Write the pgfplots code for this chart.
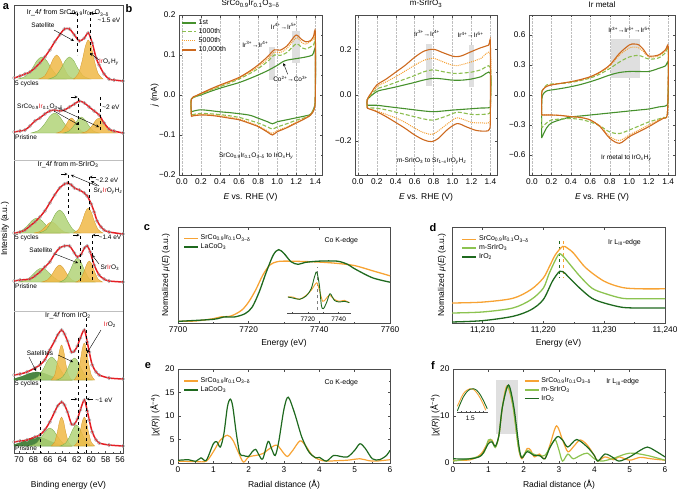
\documentclass[border=0pt]{standalone}
\usepackage{pgfplots}
\usepackage{pgfplotstable}
\pgfplotsset{compat=1.18}
\usepackage{fontspec}
\setmainfont{Liberation Sans}
\definecolor{cOr}{RGB}{247,163,52}
\definecolor{cLg}{RGB}{140,195,80}
\definecolor{cDg}{RGB}{30,105,30}
\definecolor{cv1}{RGB}{70,145,45}
\definecolor{cv2}{RGB}{140,190,80}
\definecolor{cv3}{RGB}{245,160,50}
\definecolor{cv4}{RGB}{205,105,30}
\definecolor{xred}{RGB}{228,30,36}
\definecolor{fG}{RGB}{178,212,120}
\definecolor{gEdge}{RGB}{120,170,70}
\definecolor{fO}{RGB}{240,185,70}
\definecolor{oEdge}{RGB}{210,150,40}
\definecolor{fD}{RGB}{55,120,45}
\newcommand{\fsz}[1]{\fontsize{#1}{#1}\selectfont}
\pgfplotsset{
  base/.style={scale only axis, anchor=south west,
    axis line style={black!70, line width=0.5pt},
    tick style={black!70, line width=0.4pt},
    tick align=inside, major tick length=2.5pt, minor tick length=1.4pt,
    tick label style={font=\fsz{8.3}}, label style={font=\fsz{8.5}},
    /pgf/number format/assume math mode=true, /pgf/number format/1000 sep={},
    scaled ticks=false,
    legend cell align=left,
    legend style={draw=none, fill=none, font=\fsz{7}, row sep=-1.5pt, inner sep=1pt},
    legend image code/.code={\draw[##1] (0pt,0pt) -- (14pt,0pt);},
    title style={at={(0.5,1)}, anchor=south, yshift=0.5pt, inner sep=1pt, font=\fsz{8}}},
  cvax/.style={xmin=-0.03, xmax=1.47, xtick={0,0.2,0.4,0.6,0.8,1,1.2,1.4},
    xticklabels={0.0,0.2,0.4,0.6,0.8,1.0,1.2,1.4}, minor x tick num=1, minor y tick num=1,
    xmajorgrids, major grid style={densely dotted, gray!50, line width=0.4pt},
    xlabel={\textit{E} vs. RHE (V)},
    xlabel style={at={(axis description cs:0.5,-0.1375)}, anchor=center}},
  cA/.style={color=cv1, line width=1.1pt, smooth, tension=0.5},
  cB/.style={color=cv2, line width=1.1pt, dash pattern=on 4pt off 2pt, smooth, tension=0.5},
  cC/.style={color=cv3, line width=1.0pt, densely dotted, smooth, tension=0.5},
  cD/.style={color=cv4, line width=1.1pt, smooth, tension=0.5},
  kG/.style={smooth, draw=gEdge, fill=fG, fill opacity=0.85, line width=0.3pt},
  kO/.style={smooth, draw=oEdge, fill=fO, fill opacity=0.85, line width=0.3pt},
  kD/.style={smooth, draw=fD, fill=fD, fill opacity=0.9, line width=0.3pt},
  dots/.style={only marks, mark=o, mark size=1.8pt, draw=gray!75, line width=0.35pt},
  fitl/.style={color=xred, line width=1.5pt, smooth},
}
\pgfplotstableread{
x y
70.685 375
69.863 377
69.178 379
68.493 381
67.808 385
67.123 390
66.438 396
65.753 403
65.068 411
64.384 418
63.699 424
63.014 424
62.329 418
61.644 412
60.959 415
60.41 420
59.86 410
59.32 395
58.904 388
58.219 379
57.534 374
56.849 373
55.616 372
}\rA
\pgfplotstableread{
x y
70.685 321
69.863 322
69.178 323
68.493 327
67.808 332
67.123 335
66.438 339
65.753 342
65.068 343
64.384 342
63.699 343
63.014 346
62.329 349
61.644 352
60.959 350
60.274 346
59.589 342
58.904 338
58.219 330
57.534 324
56.849 322
55.616 320
}\rB
\pgfplotstableread{
x y
70.685 220
69.863 221
69.178 223
68.493 227
67.808 231
67.123 236
66.438 242
65.753 250
65.068 258
64.384 265
63.699 269
63.29 270
62.74 268
62.329 265
61.644 263
60.959 260
60.55 257
60.00 249
59.589 241
59.18 232
58.63 226
58.219 223
57.534 221
55.616 219
}\rC
\pgfplotstableread{
x y
70.685 172
69.863 173
68.493 174
67.808 177
67.123 181
66.438 186
65.753 191
65.068 199
64.384 205
63.699 207
63.014 207
62.329 200
61.92 196
61.37 199
60.959 205
60.55 207
60.14 201
59.589 188
58.904 178
58.219 174
57.534 172
55.616 171
}\rD
\pgfplotstableread{
x y
70.685 78
69.863 79
68.90 81
67.808 85
67.123 88
66.438 93
65.753 103
65.068 112
64.66 118
64.11 123
63.699 119
63.29 112
62.74 101
62.329 102
61.92 107
61.51 115
60.959 123
60.55 111
60.274 101
59.86 88
59.32 81
58.904 78
57.534 75
55.616 74
}\rE
\pgfplotstableread{
x y
70.685 11
69.863 12
68.90 13
67.808 16
67.123 18
66.438 23
65.753 31
65.068 41
64.66 47
64.11 51
63.699 48
63.29 41
62.74 29
62.329 29
61.92 34
61.51 43
60.959 53
60.55 42
60.274 33
59.86 21
59.32 13
58.904 10
57.534 8
55.616 7
}\rF
\begin{document}
\begin{tikzpicture}[x=1pt,y=1pt]
\path[use as bounding box] (0,0) rectangle (679,491);

% ---------------- panel a ----------------
\begin{axis}[base, at={(14pt,38pt)}, width=109pt, height=448pt,
  xmin=55.6, xmax=70.7, x dir=reverse, ymin=0, ymax=448, ytick=\empty,
  xtick={56,58,60,62,64,66,68,70}, minor x tick num=1, xtick pos=left,
  xlabel={Binding energy (eV)}, ylabel={Intensity (a.u.)},
  xlabel style={at={(axis description cs:0.5,-0.071)}, anchor=center},
  ylabel style={at={(axis description cs:-0.083,0.5)}, anchor=center}]
% S1 5 cycles
\addplot[kG] coordinates {(63.56,374)(64.66,377)(65.53,384.7)(66.19,392.4)(66.85,396)(67.51,392.4)(68.17,384.7)(69.04,377)(70.14,374)} -- cycle;
\addplot[kO] coordinates {(62.32,374)(63.15,377.2)(63.80,385.7)(64.30,394)(64.79,398)(65.28,394)(65.78,385.7)(66.43,377.2)(67.26,374)} -- cycle;
\addplot[kG] coordinates {(60.13,374)(61.09,377)(61.86,384.7)(62.43,392.4)(63.01,396)(63.59,392.4)(64.16,384.7)(64.93,377)(65.89,374)} -- cycle;
\addplot[kO] coordinates {(58.36,374)(59.04,379.3)(59.59,393)(60.00,406.6)(60.41,413)(60.82,406.6)(61.23,393)(61.78,379.3)(62.46,374)} -- cycle;
\addplot[dots] table {\rA};
\addplot[fitl] table {\rA};
% S1 pristine
\addplot[kG] coordinates {(61.78,320)(62.88,322.7)(63.75,329.7)(64.41,336.7)(65.07,340)(65.73,336.7)(66.39,329.7)(67.26,322.7)(68.36,320)} -- cycle;
\addplot[kO] coordinates {(60.69,320)(61.37,322)(61.92,327.3)(62.33,332.5)(62.74,335)(63.15,332.5)(63.56,327.3)(64.11,322)(64.79,320)} -- cycle;
\addplot[kG] coordinates {(58.90,320)(59.73,322.2)(60.38,327.8)(60.88,333.4)(61.37,336)(61.86,333.4)(62.36,327.8)(63.01,322.2)(63.84,320)} -- cycle;
\addplot[kO] coordinates {(56.43,320)(57.26,322)(57.91,327.3)(58.41,332.5)(58.90,335)(59.39,332.5)(59.89,327.3)(60.54,322)(61.37,320)} -- cycle;
\addplot[dots] table {\rB};
\addplot[fitl] table {\rB};
% S2 5 cycles
\addplot[kG] coordinates {(64.24,220)(65.34,222)(66.21,227.3)(66.87,232.5)(67.53,235)(68.19,232.5)(68.85,227.3)(69.72,222)(70.82,220)} -- cycle;
\addplot[kO] coordinates {(63.01,220)(63.84,221.5)(64.49,225.4)(64.99,229.2)(65.48,231)(65.97,229.2)(66.47,225.4)(67.12,221.5)(67.95,220)} -- cycle;
\addplot[kG] coordinates {(61.50,220)(62.46,223.1)(63.23,231.2)(63.80,239.2)(64.38,243)(64.96,239.2)(65.53,231.2)(66.30,223.1)(67.26,220)} -- cycle;
\addplot[kO] coordinates {(58.36,220)(59.04,223.4)(59.59,232.2)(60.00,240.9)(60.41,245)(60.82,240.9)(61.23,232.2)(61.78,223.4)(62.46,220)} -- cycle;
\addplot[dots] table {\rC};
\addplot[fitl] table {\rC};
% S2 pristine
\addplot[kG] coordinates {(63.56,171)(64.66,172.9)(65.53,177.8)(66.19,182.7)(66.85,185)(67.51,182.7)(68.17,177.8)(69.04,172.9)(70.14,171)} -- cycle;
\addplot[kO] coordinates {(61.91,171)(62.74,173.3)(63.39,179.3)(63.89,185.2)(64.38,188)(64.87,185.2)(65.37,179.3)(66.02,173.3)(66.85,171)} -- cycle;
\addplot[kG] coordinates {(59.45,171)(60.28,174.2)(60.93,182.7)(61.43,191)(61.92,195)(62.41,191)(62.91,182.7)(63.56,174.2)(64.39,171)} -- cycle;
\addplot[kO] coordinates {(58.42,171)(59.04,173.8)(59.53,181.2)(59.90,188.5)(60.27,192)(60.64,188.5)(61.01,181.2)(61.50,173.8)(62.12,171)} -- cycle;
\addplot[dots] table {\rD};
\addplot[fitl] table {\rD};
% S3 5 cycles
\addplot[kD] coordinates {(62.60,73)(64.24,74.1)(65.56,76.9)(66.54,79.7)(67.53,81)(68.52,79.7)(69.50,76.9)(70.82,74.1)(72.46,73)} -- cycle;
\addplot[kG] coordinates {(62.60,73)(63.56,76.1)(64.33,84.2)(64.90,92.2)(65.48,96)(66.06,92.2)(66.63,84.2)(67.40,76.1)(68.36,73)} -- cycle;
\addplot[kO] coordinates {(62.67,73)(63.15,77.7)(63.54,90)(63.82,102.2)(64.11,108)(64.40,102.2)(64.69,90)(65.07,77.7)(65.55,73)} -- cycle;
\addplot[kG] coordinates {(59.86,73)(60.69,76)(61.34,83.7)(61.84,91.4)(62.33,95)(62.82,91.4)(63.32,83.7)(63.97,76)(64.80,73)} -- cycle;
\addplot[kO] coordinates {(59.52,73)(60.00,78)(60.39,91)(60.67,103.9)(60.96,110)(61.25,103.9)(61.54,91)(61.92,78)(62.40,73)} -- cycle;
\addplot[dots] table {\rE};
\addplot[fitl] table {\rE};
% S3 pristine
\addplot[kD] coordinates {(62.60,7)(64.24,8.2)(65.56,11.4)(66.54,14.5)(67.53,16)(68.52,14.5)(69.50,11.4)(70.82,8.2)(72.46,7)} -- cycle;
\addplot[kG] coordinates {(62.87,7)(63.83,9.4)(64.60,15.8)(65.17,22)(65.75,25)(66.33,22)(66.90,15.8)(67.67,9.4)(68.63,7)} -- cycle;
\addplot[kO] coordinates {(62.67,7)(63.15,10.9)(63.54,21.1)(63.82,31.2)(64.11,36)(64.40,31.2)(64.69,21.1)(65.07,10.9)(65.55,7)} -- cycle;
\addplot[kG] coordinates {(59.79,7)(60.54,9.8)(61.15,17.2)(61.60,24.5)(62.05,28)(62.50,24.5)(62.95,17.2)(63.56,9.8)(64.31,7)} -- cycle;
\addplot[kO] coordinates {(59.52,7)(60.00,10.9)(60.39,21.1)(60.67,31.2)(60.96,36)(61.25,31.2)(61.54,21.1)(61.92,10.9)(62.40,7)} -- cycle;
\addplot[dots] table {\rF};
\addplot[fitl] table {\rF};
\end{axis}

% panel a annotations
\begin{scope}[font=\fsz{6.5}]
\draw[gray!50, line width=0.4pt] (14,331) -- (123,331);
\draw[gray!50, line width=0.4pt] (14,180) -- (123,180);
\node[font=\fsz{7}] at (68,478) {Ir\_4\textit{f} from SrCo\textsubscript{0.9}Ir\textsubscript{0.1}O\textsubscript{3−δ}};
\node[font=\fsz{7}] at (68,326) {Ir\_4\textit{f} from m-SrIrO\textsubscript{3}};
\node[font=\fsz{7}] at (68,175) {Ir\_4\textit{f} from IrO\textsubscript{2}};
\node[anchor=north west, inner sep=0pt] at (15,410) {5 cycles};
\node[anchor=north west, inner sep=0pt] at (15,356) {Pristine};
\node[anchor=north west, inner sep=0pt] at (15,256) {5 cycles};
\node[anchor=north west, inner sep=0pt] at (15,207) {Pristine};
\node[anchor=north west, inner sep=0pt] at (15,110) {5 cycles};
\node[anchor=north west, inner sep=0pt] at (15,45) {Pristine};
% S1
\node at (43,466) {Satellite};
\draw[-stealth, line width=0.4pt] (54,461) -- (74,450);
\draw[dashed, line width=0.4pt] (77,478) -- (77,436);
\draw[dashed, line width=0.4pt] (90,479) -- (90,436);
\draw[-stealth, line width=0.3pt] (70,478) -- (76.5,478);
\draw[-stealth, line width=0.3pt] (97,478) -- (90.5,478);
\node at (109,471) {\textasciitilde1.5 eV};
\node at (109,429) {\textcolor{xred}{Ir}O\textsubscript{\textit{x}}H\textsubscript{\textit{y}}};
\draw[-stealth, line width=0.4pt] (99,431) -- (90,438);
\node[anchor=west, inner sep=0pt] at (17,384) {SrCo\textsubscript{0.9}\textcolor{xred}{Ir}\textsubscript{0.1}O\textsubscript{3−δ}};
\draw[-stealth, line width=0.4pt] (54,380) -- (79,366);
\draw[-stealth, line width=0.4pt] (58,383) -- (99,364);
\draw[dashed, line width=0.4pt] (78,393) -- (78,361);
\draw[dashed, line width=0.4pt] (100,394) -- (100,361);
\draw[-stealth, line width=0.3pt] (71,394) -- (77.5,394);
\node at (111,384) {\textasciitilde2 eV};
% S2
\draw[dashed, line width=0.4pt] (68,316) -- (68,276);
\draw[dashed, line width=0.4pt] (89,314) -- (89,278);
\draw[-stealth, line width=0.3pt] (61,317) -- (67.5,317);
\draw[-stealth, line width=0.3pt] (96,314) -- (89.5,314);
\node at (107,311) {\textasciitilde2.2 eV};
\node at (108,300) {Sr\textsubscript{\textit{x}}\textcolor{xred}{Ir}O\textsubscript{\textit{y}}H\textsubscript{\textit{z}}};
\draw[-stealth, line width=0.4pt] (97,305) -- (71,316);
\draw[-stealth, line width=0.4pt] (99,305) -- (91,310);
\draw[dashed, line width=0.4pt] (80,255) -- (80,209);
\draw[dashed, line width=0.4pt] (92,256) -- (92,211);
\draw[-stealth, line width=0.3pt] (73,256) -- (79.5,256);
\draw[-stealth, line width=0.3pt] (99,256) -- (92.5,256);
\node at (110,254) {\textasciitilde1.4 eV};
\node at (41,241) {Satellite};
\draw[-stealth, line width=0.4pt] (55,237) -- (78,228);
\node at (110,223) {Sr\textcolor{xred}{Ir}O\textsubscript{3}};
\draw[-stealth, line width=0.4pt] (99,227) -- (92,236);
% S3
\node at (110,166) {\textcolor{xred}{Ir}O\textsubscript{2}};
\draw[-stealth, line width=0.4pt] (101,161) -- (87,138);
\node at (40,138) {Satellites};
\draw[-stealth, line width=0.4pt] (29,134) -- (36,120);
\draw[-stealth, line width=0.4pt] (58,136) -- (73,129);
\draw[dashed, line width=0.4pt] (40,130) -- (40,38);
\draw[dashed, line width=0.4pt] (78,153) -- (78,38);
\draw[dashed, line width=0.4pt] (86,173) -- (86,38);
\draw[-stealth, line width=0.3pt] (71,92) -- (77.5,92);
\draw[-stealth, line width=0.3pt] (93,92) -- (86.5,92);
\node at (104,91) {\textasciitilde1 eV};
\end{scope}

% ---------------- panel b1 ----------------
\begin{axis}[base, cvax, at={(179pt,316pt)}, width=143pt, height=160pt,
  ymin=-0.2, ymax=0.2, ytick={-0.2,-0.1,0,0.1,0.2}, yticklabels={−0.2,−0.1,0.0,0.1,0.2},
  ylabel={\textit{j} (mA)}, ylabel style={at={(axis description cs:-0.17,0.5)}, anchor=center},
  title={SrCo\textsubscript{0.9}Ir\textsubscript{0.1}O\textsubscript{3−δ}},
  legend style={at={(0.01,0.99)}, anchor=north west}]
\fill[gray!25] (axis cs:0.91,0.0375) rectangle (axis cs:0.98,0.121);
\fill[gray!25] (axis cs:1.16,0.081) rectangle (axis cs:1.24,0.161);
\addplot[cA] coordinates {(0.1,-0.042)(0.1,-0.01)(0.2,0.0)(0.3,0.009)(0.4,0.017)(0.5,0.024)(0.6,0.031)(0.7,0.04)(0.8,0.05)(0.9,0.061)(1.0,0.074)(1.05,0.082)(1.1,0.087)(1.2,0.091)(1.3,0.095)(1.37,0.1)(1.4,0.112)(1.4,0.0)(1.39,-0.03)(1.35,-0.048)(1.3,-0.052)(1.2,-0.057)(1.1,-0.062)(1.0,-0.067)(0.95,-0.072)(0.9,-0.067)(0.8,-0.058)(0.7,-0.05)(0.5,-0.044)(0.4,-0.042)(0.2,-0.037)(0.1,-0.042)};
\addlegendentry{1st}
\addplot[cB] coordinates {(0.1,-0.05)(0.1,-0.012)(0.2,0.002)(0.3,0.012)(0.4,0.021)(0.5,0.03)(0.6,0.04)(0.7,0.052)(0.8,0.066)(0.9,0.084)(0.97,0.1)(1.03,0.099)(1.1,0.106)(1.2,0.128)(1.25,0.12)(1.3,0.115)(1.38,0.125)(1.4,0.135)(1.4,0.0)(1.39,-0.03)(1.35,-0.05)(1.3,-0.056)(1.2,-0.063)(1.1,-0.072)(1.0,-0.08)(0.95,-0.085)(0.9,-0.08)(0.8,-0.07)(0.6,-0.056)(0.4,-0.049)(0.2,-0.046)(0.1,-0.05)};
\addlegendentry{1000th}
\addplot[cC] coordinates {(0.1,-0.052)(0.1,-0.01)(0.2,0.003)(0.3,0.013)(0.4,0.023)(0.5,0.032)(0.6,0.042)(0.7,0.055)(0.8,0.071)(0.9,0.09)(0.97,0.107)(1.03,0.106)(1.1,0.116)(1.2,0.143)(1.25,0.133)(1.3,0.127)(1.38,0.14)(1.4,0.15)(1.4,0.0)(1.39,-0.033)(1.35,-0.048)(1.3,-0.056)(1.2,-0.068)(1.1,-0.08)(1.0,-0.089)(0.95,-0.096)(0.9,-0.09)(0.8,-0.077)(0.6,-0.06)(0.4,-0.052)(0.2,-0.048)(0.1,-0.052)};
\addlegendentry{5000th}
\addplot[cD] coordinates {(0.1,-0.054)(0.1,-0.01)(0.15,-0.002)(0.2,0.004)(0.3,0.015)(0.4,0.025)(0.5,0.034)(0.6,0.044)(0.7,0.058)(0.8,0.075)(0.9,0.096)(0.97,0.113)(1.03,0.112)(1.1,0.122)(1.15,0.137)(1.2,0.15)(1.25,0.14)(1.3,0.133)(1.35,0.136)(1.38,0.146)(1.4,0.155)(1.4,0.0)(1.39,-0.035)(1.35,-0.05)(1.3,-0.058)(1.2,-0.07)(1.1,-0.082)(1.0,-0.092)(0.95,-0.1)(0.9,-0.093)(0.8,-0.079)(0.7,-0.07)(0.6,-0.062)(0.5,-0.058)(0.4,-0.054)(0.3,-0.051)(0.2,-0.05)(0.12,-0.052)(0.1,-0.054)};
\addlegendentry{10,000th}
\node[font=\fsz{6.5}] at (axis cs:0.77,0.127) {Ir\textsuperscript{3+}→Ir\textsuperscript{4+}};
\node[font=\fsz{6.5}] at (axis cs:1.07,0.172) {Ir\textsuperscript{4+}→Ir\textsuperscript{5+}};
\node[font=\fsz{6.5}] at (axis cs:1.14,0.04) {Co\textsuperscript{2+}→Co\textsuperscript{3+}};
\draw[-stealth, line width=0.4pt] (axis cs:1.11,0.052) -- (axis cs:1.065,0.08);
\node[font=\fsz{6.5}] at (axis cs:0.78,-0.152) {SrCo\textsubscript{0.9}Ir\textsubscript{0.1}O\textsubscript{3−δ} to IrO\textsubscript{\textit{x}}H\textsubscript{\textit{y}}};
\end{axis}

% ---------------- panel b2 ----------------
\begin{axis}[base, cvax, at={(355pt,316pt)}, width=142pt, height=160pt,
  ymin=-0.35, ymax=0.35, ytick={-0.2,0,0.2}, yticklabels={−0.2,0.0,0.2},
  title={m-SrIrO\textsubscript{3}}]
\fill[gray!25] (axis cs:0.72,0.04) rectangle (axis cs:0.78,0.225);
\fill[gray!25] (axis cs:1.17,0.036) rectangle (axis cs:1.23,0.22);
\addplot[cA] coordinates {(0.1,-0.045)(0.1,-0.02)(0.2,0.015)(0.3,0.026)(0.4,0.035)(0.5,0.045)(0.6,0.055)(0.7,0.066)(0.8,0.073)(0.9,0.07)(1.0,0.065)(1.1,0.065)(1.2,0.07)(1.3,0.08)(1.4,0.095)(1.4,-0.04)(1.39,-0.055)(1.3,-0.057)(1.2,-0.06)(1.1,-0.063)(1.0,-0.066)(0.9,-0.07)(0.8,-0.073)(0.7,-0.07)(0.6,-0.065)(0.5,-0.06)(0.4,-0.055)(0.3,-0.05)(0.2,-0.045)(0.1,-0.045)};
\addplot[cB] coordinates {(0.1,-0.056)(0.1,-0.02)(0.2,0.025)(0.3,0.04)(0.4,0.055)(0.5,0.07)(0.6,0.085)(0.7,0.102)(0.8,0.11)(0.9,0.102)(1.0,0.095)(1.05,0.094)(1.2,0.1)(1.3,0.11)(1.4,0.12)(1.4,-0.05)(1.39,-0.08)(1.3,-0.085)(1.2,-0.085)(1.05,-0.075)(0.95,-0.09)(0.8,-0.11)(0.7,-0.105)(0.6,-0.095)(0.5,-0.085)(0.4,-0.075)(0.3,-0.065)(0.2,-0.058)(0.1,-0.056)};
\addplot[cC] coordinates {(0.1,-0.058)(0.1,-0.02)(0.2,0.035)(0.3,0.058)(0.4,0.08)(0.5,0.105)(0.6,0.13)(0.7,0.152)(0.8,0.16)(0.9,0.145)(1.0,0.13)(1.05,0.128)(1.2,0.145)(1.3,0.16)(1.4,0.175)(1.4,-0.08)(1.39,-0.12)(1.3,-0.122)(1.2,-0.12)(1.05,-0.1)(0.95,-0.125)(0.8,-0.17)(0.7,-0.165)(0.6,-0.145)(0.5,-0.12)(0.4,-0.1)(0.3,-0.085)(0.2,-0.07)(0.1,-0.058)};
\addplot[cD] coordinates {(0.1,-0.058)(0.1,-0.02)(0.15,0.015)(0.2,0.044)(0.3,0.07)(0.4,0.1)(0.5,0.13)(0.6,0.165)(0.7,0.192)(0.8,0.2)(0.9,0.185)(1.0,0.17)(1.05,0.168)(1.1,0.172)(1.2,0.19)(1.3,0.207)(1.38,0.218)(1.4,0.226)(1.4,-0.1)(1.39,-0.15)(1.35,-0.158)(1.25,-0.155)(1.15,-0.14)(1.05,-0.125)(0.95,-0.15)(0.85,-0.19)(0.78,-0.204)(0.7,-0.197)(0.6,-0.175)(0.5,-0.146)(0.4,-0.12)(0.3,-0.095)(0.2,-0.073)(0.1,-0.058)};
\node[font=\fsz{6.5}] at (axis cs:0.73,0.27) {Ir\textsuperscript{3+}→Ir\textsuperscript{4+}};
\node[font=\fsz{6.5}] at (axis cs:1.19,0.262) {Ir\textsuperscript{4+}→Ir\textsuperscript{5+}};
\node[font=\fsz{6.5}] at (axis cs:0.78,-0.29) {m-SrIrO\textsubscript{3} to Sr\textsubscript{1−\textit{x}}IrO\textsubscript{\textit{y}}H\textsubscript{\textit{z}}};
\end{axis}

% ---------------- panel b3 ----------------
\begin{axis}[base, cvax, at={(529pt,316pt)}, width=146pt, height=160pt,
  ymin=-0.8, ymax=0.8, ytick={-0.6,-0.3,0,0.3,0.6}, yticklabels={−0.6,−0.3,0.0,0.3,0.6},
  title={Ir metal}]
\fill[gray!25] (axis cs:0.81,0.167) rectangle (axis cs:1.115,0.557);
\addplot[cA] coordinates {(0.1,-0.43)(0.1,-0.1)(0.11,0.0)(0.15,0.04)(0.2,0.05)(0.3,0.065)(0.4,0.083)(0.5,0.105)(0.6,0.133)(0.7,0.165)(0.8,0.2)(0.9,0.225)(1.0,0.235)(1.1,0.235)(1.2,0.235)(1.3,0.265)(1.37,0.29)(1.4,0.317)(1.4,0.0)(1.39,-0.1)(1.3,-0.12)(1.2,-0.14)(1.1,-0.15)(1.0,-0.16)(0.9,-0.17)(0.8,-0.18)(0.7,-0.19)(0.6,-0.2)(0.5,-0.21)(0.4,-0.22)(0.3,-0.245)(0.2,-0.28)(0.15,-0.33)(0.1,-0.43)};
\addplot[cB] coordinates {(0.1,-0.33)(0.1,0.0)(0.11,0.05)(0.15,0.1)(0.2,0.11)(0.3,0.115)(0.4,0.125)(0.5,0.145)(0.6,0.17)(0.7,0.21)(0.8,0.265)(0.9,0.33)(1.0,0.38)(1.1,0.395)(1.2,0.36)(1.3,0.37)(1.37,0.42)(1.4,0.45)(1.4,0.1)(1.39,-0.2)(1.35,-0.225)(1.2,-0.27)(1.1,-0.31)(1.0,-0.35)(0.9,-0.385)(0.8,-0.37)(0.7,-0.31)(0.6,-0.27)(0.5,-0.245)(0.4,-0.235)(0.3,-0.24)(0.2,-0.25)(0.15,-0.28)(0.1,-0.33)};
\addplot[cC] coordinates {(0.1,-0.2)(0.1,0.0)(0.11,0.05)(0.15,0.09)(0.2,0.105)(0.3,0.117)(0.4,0.13)(0.5,0.15)(0.6,0.18)(0.7,0.225)(0.8,0.29)(0.9,0.4)(1.0,0.47)(1.05,0.48)(1.1,0.47)(1.15,0.43)(1.2,0.38)(1.3,0.39)(1.37,0.44)(1.4,0.47)(1.4,0.1)(1.39,-0.2)(1.35,-0.23)(1.3,-0.25)(1.2,-0.3)(1.1,-0.35)(1.0,-0.4)(0.9,-0.455)(0.8,-0.415)(0.7,-0.31)(0.6,-0.25)(0.5,-0.225)(0.4,-0.215)(0.3,-0.205)(0.2,-0.2)(0.1,-0.2)};
\addplot[cD] coordinates {(0.1,-0.2)(0.1,0.0)(0.11,0.05)(0.15,0.085)(0.2,0.1)(0.3,0.117)(0.4,0.133)(0.5,0.155)(0.6,0.183)(0.7,0.23)(0.8,0.3)(0.9,0.417)(1.0,0.5)(1.05,0.51)(1.1,0.5)(1.15,0.45)(1.2,0.39)(1.3,0.4)(1.37,0.45)(1.4,0.483)(1.4,0.1)(1.39,-0.2)(1.35,-0.233)(1.3,-0.26)(1.2,-0.317)(1.1,-0.367)(1.0,-0.417)(0.9,-0.483)(0.8,-0.433)(0.7,-0.317)(0.6,-0.25)(0.5,-0.225)(0.4,-0.217)(0.3,-0.205)(0.2,-0.2)(0.1,-0.2)};
\node[font=\fsz{6.5}] at (axis cs:1.0,0.65) {Ir\textsuperscript{3+}→Ir\textsuperscript{4+}→Ir\textsuperscript{5+}};
\node[font=\fsz{6.5}] at (axis cs:0.97,-0.63) {Ir metal to IrO\textsubscript{\textit{x}}H\textsubscript{\textit{y}}};
\end{axis}

% ---------------- panel c ----------------
\begin{axis}[base, at={(178pt,168pt)}, width=212pt, height=96pt,
  xmin=7700, xmax=7760, ymin=0, ymax=1.505, xtick={7700,7720,7740,7760}, minor x tick num=1,
  ytick=\empty, xlabel={Energy (eV)}, ylabel={Normalized \textit{μ}(\textit{E}) (a.u.)},
  xlabel style={at={(axis description cs:0.5,-0.21)}, anchor=center},
  ylabel style={at={(axis description cs:-0.057,0.5)}, anchor=center},
  legend style={at={(0.02,0.95)}, anchor=north west}]
\addplot[color=cOr, line width=1.3pt, smooth] coordinates {(7700,0.026)(7705,0.032)(7710,0.068)(7712,0.095)(7715,0.11)(7718,0.2)(7720,0.33)(7722,0.52)(7724,0.75)(7726,0.91)(7728,0.96)(7730,0.97)(7735,0.965)(7740,0.955)(7745,0.935)(7750,0.9)(7755,0.82)(7760,0.74)};
\addlegendentry{SrCo\textsubscript{0.9}Ir\textsubscript{0.1}O\textsubscript{3−δ}}
\addplot[color=cDg, line width=1.3pt, smooth] coordinates {(7700,0.026)(7710,0.058)(7713,0.095)(7716,0.095)(7719,0.147)(7721,0.25)(7723,0.49)(7725,0.8)(7727,1.07)(7728.5,1.15)(7730,1.09)(7732,0.96)(7734,0.92)(7736,0.95)(7740,0.97)(7745,0.97)(7748,0.92)(7750,0.85)(7755,0.71)(7760,0.64)};
\addlegendentry{LaCoO\textsubscript{3}}
\node[font=\fsz{7}] at (axis description cs:0.77,0.854) {Co K-edge};
\end{axis}
% inset c
\begin{axis}[anchor=south west, at={(287pt,178pt)}, scale only axis, width=64pt, height=46pt,
  xmin=7706.5, xmax=7748, ymin=0, ymax=46, axis x line=bottom, axis y line=none,
  x axis line style={-, black!70, line width=0.4pt}, tick style={black!70, line width=0.4pt},
  xtick={7720,7740}, minor xtick={7710,7730}, major tick length=2pt, minor tick length=1.2pt,
  tick label style={font=\fsz{6.5}}, /pgf/number format/assume math mode=true,
  /pgf/number format/1000 sep={}, scaled ticks=false, xticklabel style={yshift=1pt}]
\draw[dashed, gray, line width=0.4pt] (axis cs:7725.8,3) -- (axis cs:7725.8,46);
\addplot[color=cOr, line width=0.9pt, smooth] coordinates {(7707.1,16)(7710.3,16)(7714.6,13.7)(7718.9,17.7)(7722.2,22.7)(7725.8,30.3)(7727.5,22.7)(7729.7,11.7)(7731.8,14.3)(7734,17.7)(7737.2,13.7)(7740.4,11.7)(7743.7,12.7)(7746.9,10.3)};
\addplot[color=cDg, line width=0.9pt, smooth] coordinates {(7707.1,16)(7710.3,15)(7714.6,13.7)(7718.9,17)(7722.2,24.3)(7724.3,36)(7725.8,41)(7727.5,27.7)(7728.8,7.7)(7730.1,4.3)(7732.3,11)(7734.4,19.3)(7737.2,12.7)(7740.4,11)(7743.7,11.7)(7746.9,10.3)};
\end{axis}

% ---------------- panel d ----------------
\begin{axis}[base, at={(452pt,168pt)}, width=213pt, height=96pt,
  xmin=11205, xmax=11240, ymin=0, ymax=1.516, xtick={11210,11220,11230,11240},
  xticklabels={{11,210},{11,220},{11,230},{11,240}}, minor x tick num=1,
  ytick=\empty, xlabel={Energy (eV)}, ylabel={Normalized \textit{μ}(\textit{E}) (a.u.)},
  xlabel style={at={(axis description cs:0.5,-0.21)}, anchor=center},
  ylabel style={at={(axis description cs:-0.047,0.5)}, anchor=center},
  legend style={at={(0.04,0.94)}, anchor=north west}]
\draw[dashed, color=cOr, line width=0.5pt] (axis cs:11223.2,1.29) -- (axis cs:11223.2,0.71);
\draw[dashed, color=cDg, line width=0.5pt] (axis cs:11222.7,1.29) -- (axis cs:11222.7,0.71);
\addplot[color=cOr, line width=1.3pt, smooth] coordinates {(11205,0.316)(11210,0.33)(11215,0.39)(11218,0.53)(11220,0.71)(11221,0.89)(11222,1.08)(11223.2,1.21)(11224,1.18)(11225,1.1)(11227,0.87)(11230,0.66)(11233,0.56)(11236,0.54)(11240,0.54)};
\addlegendentry{SrCo\textsubscript{0.9}Ir\textsubscript{0.1}O\textsubscript{3−δ}}
\addplot[color=cLg, line width=1.3pt, smooth] coordinates {(11205,0.158)(11210,0.174)(11215,0.237)(11218,0.37)(11220,0.55)(11221,0.79)(11222.5,1.08)(11223.3,1.05)(11224,0.97)(11226,0.74)(11228,0.55)(11230,0.47)(11233,0.39)(11236,0.384)(11240,0.384)};
\addlegendentry{m-SrIrO\textsubscript{3}}
\addplot[color=cDg, line width=1.3pt, smooth] coordinates {(11205,0.016)(11210,0.037)(11215,0.105)(11218,0.21)(11220,0.37)(11221.5,0.66)(11222.7,0.816)(11223.5,0.79)(11224,0.74)(11226,0.55)(11228,0.39)(11230,0.316)(11233,0.247)(11236,0.237)(11240,0.237)};
\addlegendentry{IrO\textsubscript{2}}
\node[font=\fsz{7}] at (axis description cs:0.81,0.84) {Ir L\textsubscript{III}-edge};
\end{axis}

% ---------------- panel e ----------------
\begin{axis}[base, at={(178pt,28pt)}, width=212pt, height=94pt,
  xmin=0, xmax=6, ymin=0, ymax=20, xtick={0,1,2,3,4,5,6}, ytick={0,5,10,15,20},
  minor x tick num=1, minor y tick num=1,
  xlabel={Radial distance (Å)}, ylabel={|\textit{χ}(\textit{R})| (Å\textsuperscript{−4})},
  xlabel style={at={(axis description cs:0.5,-0.234)}, anchor=center},
  ylabel style={at={(axis description cs:-0.108,0.5)}, anchor=center},
  legend style={at={(0.02,0.94)}, anchor=north west}]
\addplot[color=cOr, line width=1.2pt, smooth] coordinates {(0,0.4)(0.5,0.3)(0.8,0.4)(1.0,2.4)(1.2,4.9)(1.4,5.9)(1.55,4.9)(1.7,2.4)(1.85,0.2)(2.0,1.3)(2.2,1.6)(2.4,2.0)(2.6,3.1)(2.8,3.8)(3.0,2.0)(3.1,1.4)(3.25,2.7)(3.45,4.7)(3.6,3.8)(3.8,1.6)(4.0,0.7)(4.2,0.4)(4.5,0.5)(4.8,0.6)(5.15,0.9)(5.4,0.5)(5.6,0.4)(6.0,0.7)};
\addlegendentry{SrCo\textsubscript{0.9}Ir\textsubscript{0.1}O\textsubscript{3−δ}}
\addplot[color=cDg, line width=1.2pt, smooth] coordinates {(0,0.57)(0.3,0.7)(0.5,0.35)(0.65,1.1)(0.8,0.57)(1.0,4.1)(1.1,4.5)(1.2,3.4)(1.3,6.3)(1.4,12)(1.48,13.6)(1.55,12)(1.65,6.3)(1.75,2)(1.85,1.6)(2.0,1.4)(2.1,2.4)(2.2,2.9)(2.3,1.6)(2.4,0.9)(2.55,4.6)(2.65,3)(2.75,1.6)(2.85,4.5)(3.0,11.5)(3.12,14)(3.3,10.6)(3.5,5.6)(3.7,2.4)(3.9,1.1)(4.0,1.2)(4.2,0.4)(4.4,1.6)(4.6,1.4)(4.8,1.3)(5.0,2.7)(5.15,4.1)(5.3,3.1)(5.5,0.9)(5.7,0.7)(5.9,1.6)(6.0,2.7)};
\addlegendentry{LaCoO\textsubscript{3}}
\node[font=\fsz{7}] at (axis description cs:0.77,0.85) {Co K-edge};
\end{axis}

% ---------------- panel f ----------------
\begin{axis}[base, at={(453pt,28pt)}, width=212pt, height=94pt,
  xmin=0, xmax=6, ymin=0, ymax=20, xtick={0,1,2,3,4,5,6}, ytick={0,10,20},
  minor x tick num=1, minor y tick num=1,
  xlabel={Radial distance (Å)}, ylabel={|\textit{χ}(\textit{R})| (Å\textsuperscript{−4})},
  xlabel style={at={(axis description cs:0.5,-0.234)}, anchor=center},
  ylabel style={at={(axis description cs:-0.085,0.5)}, anchor=center},
  legend style={at={(0.33,0.94)}, anchor=north west}]
\fill[gray!25] (axis cs:1.23,6.1) rectangle (axis cs:1.84,17.7);
\addplot[color=cOr, line width=1.2pt, smooth] coordinates {(0,0.57)(0.5,0.7)(0.8,2)(1.0,4.5)(1.1,4.9)(1.2,3.4)(1.3,5.9)(1.4,12)(1.53,16.4)(1.7,12)(1.85,3.4)(1.95,0.9)(2.1,3.1)(2.2,2.7)(2.3,1.3)(2.45,1.9)(2.6,0.9)(2.75,4)(2.93,7.9)(3.1,4.9)(3.25,2.4)(3.4,3.4)(3.6,4.9)(3.8,3.8)(4.0,1.6)(4.1,0.4)(4.3,1.3)(4.55,0.7)(4.7,1.3)(5.0,0.6)(5.3,1.2)(5.6,0.9)(6.0,0.6)};
\addlegendentry{SrCo\textsubscript{0.9}Ir\textsubscript{0.1}O\textsubscript{3−δ}}
\addplot[color=cLg, line width=1.2pt, smooth] coordinates {(0,0.4)(0.8,1.6)(1.0,4.9)(1.1,4.7)(1.2,3.3)(1.3,5.9)(1.4,12)(1.55,16.4)(1.7,12)(1.85,3.4)(1.95,1.3)(2.1,2.7)(2.25,2)(2.4,1.6)(2.6,1.6)(2.8,4.1)(2.9,4.9)(3.0,2.7)(3.1,0.4)(3.25,1.9)(3.4,0.9)(3.6,1.6)(3.8,2.1)(4.0,0.9)(4.2,0.4)(4.5,0.9)(5.0,2.1)(5.5,1.6)(6.0,0.6)};
\addlegendentry{m-SrIrO\textsubscript{3}}
\addplot[color=cDg, line width=1.2pt, smooth] coordinates {(0,0.9)(0.5,0.9)(0.8,1.6)(1.0,4.1)(1.1,4.5)(1.2,3.6)(1.3,5.9)(1.4,12)(1.57,16.6)(1.72,12)(1.87,3.4)(1.95,1.1)(2.1,2.4)(2.3,1.6)(2.45,1.6)(2.6,0.9)(2.75,3.4)(2.95,5.6)(3.1,4.9)(3.25,3.4)(3.5,5.0)(3.8,3.4)(4.0,1.6)(4.1,0.4)(4.3,1.9)(4.5,1.3)(4.7,0.4)(5.0,1.3)(5.3,2.7)(5.5,3.4)(5.7,2.7)(6.0,1.3)};
\addlegendentry{IrO\textsubscript{2}}
\node[font=\fsz{7}] at (axis description cs:0.80,0.86) {Ir L\textsubscript{III}-edge};
\end{axis}
% inset f
\begin{axis}[anchor=south west, at={(457pt,79pt)}, scale only axis, width=31pt, height=25pt,
  xmin=1.2, xmax=1.9, ymin=0, ymax=25, axis x line=bottom, axis y line=none,
  x axis line style={-, black!70, line width=0.4pt}, tick style={black!70, line width=0.4pt},
  xtick={1.5}, minor xtick={1.3,1.4,1.6,1.7,1.8}, major tick length=2pt, minor tick length=1.2pt,
  tick label style={font=\fsz{6.5}}, /pgf/number format/assume math mode=true, xticklabel style={yshift=1pt}]
\addplot[color=cOr, line width=0.9pt, smooth] coordinates {(1.207,5.7)(1.268,11.7)(1.343,18.3)(1.419,21.7)(1.494,23.3)(1.569,22.7)(1.645,19.3)(1.719,14.3)(1.794,7.7)(1.85,1.7)};
\addplot[color=cDg, line width=0.9pt, smooth] coordinates {(1.207,1)(1.268,7.7)(1.343,15)(1.419,20)(1.494,22.7)(1.569,23.3)(1.645,21.7)(1.719,17.7)(1.794,11.7)(1.884,3.3)};
\end{axis}

% panel letters
\begin{scope}[font=\fsz{11}\bfseries]
\node at (6,484) {a};
\node at (129,482) {b};
\node at (147,263) {c};
\node at (433,263) {d};
\node at (148,125) {e};
\node at (433,125) {f};
\end{scope}
\end{tikzpicture}
\end{document}
